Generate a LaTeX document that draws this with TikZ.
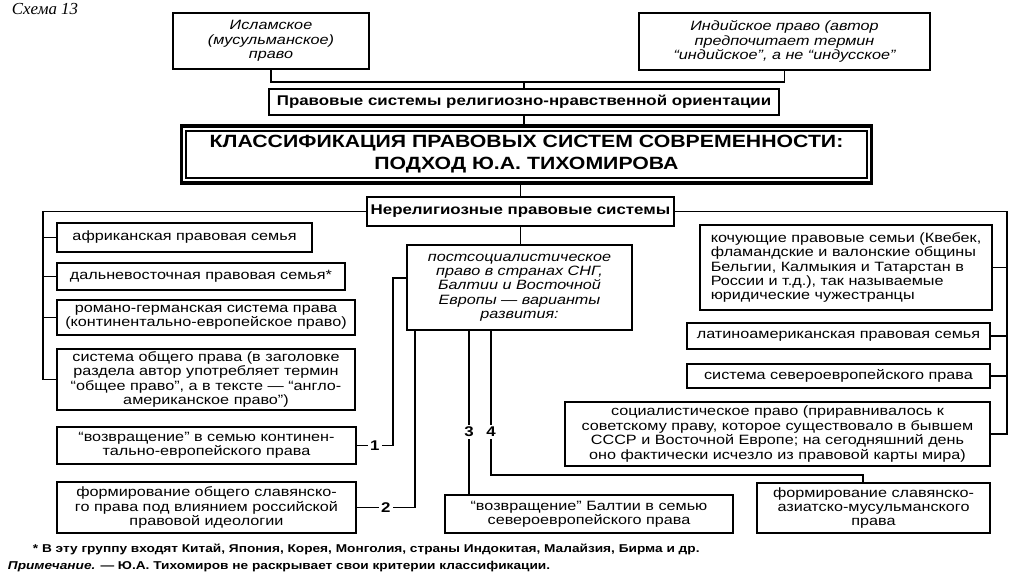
\documentclass[tikz,border=0pt]{standalone}
\usepackage{fontspec}
\setmainfont{Liberation Sans}[FakeStretch=1.2]
\newfontfamily\schemefont{Liberation Serif}
\usetikzlibrary{positioning,calc}

\newcommand{\bodysize}{\fontsize{9.6}{10.2}\selectfont}
\newcommand{\headsize}{\fontsize{10}{12}\selectfont\bfseries}
\newcommand{\titlesize}{\fontsize{12.6}{15.6}\selectfont\bfseries}
\newcommand{\notesize}{\fontsize{8.1}{10}\selectfont\bfseries}

\begin{document}
\begin{tikzpicture}[
  x=0.025cm, y=-0.025cm,
  wh/.style 2 args={minimum width=#1*0.025cm, minimum height=#2*0.025cm},
  box/.style={draw, line width=1pt, inner sep=0pt, align=center, font=\bodysize},
  ibox/.style={box, font=\bodysize\itshape},
  hbox/.style={box, font=\headsize},
  num/.style={fill=white, inner sep=1.5pt, font=\headsize},
  conn/.style={line width=1pt},
]
\useasboundingbox (0,0) rectangle (1024,574);

\node[anchor=base west, font=\schemefont\itshape\fontsize{12}{13}\selectfont] (scheme) at (7,14) {Схема 13};

% religious systems
\node[ibox, wh={196}{56}] (islam) at (271,41) {Исламское\\(мусульманское)\\право};
\node[ibox, wh={291}{57}] (indian) at (784.5,41.5) {Индийское право (автор\\предпочитает термин\\“индийское”, а не “индусское”};
\node[hbox, wh={510}{26}] (relig) at (524,102) {Правовые системы религиозно-нравственной ориентации};

% title
\node[box, font=\titlesize, line width=0.8pt, wh={681}{47}] (title) at (526.5,154.5) {КЛАССИФИКАЦИЯ ПРАВОВЫХ СИСТЕМ СОВРЕМЕННОСТИ:\\ПОДХОД Ю.А. ТИХОМИРОВА};
\node[draw, line width=2.2pt, wh={690}{57}] (frame) at (title.center) {};

\node[hbox, wh={307}{29}] (nonrel) at (520.5,211.5) {Нерелигиозные правовые системы};

% left column
\node[box, wh={255}{29}] (afr) at (184.5,237.5) {африканская правовая семья};
\node[box, wh={288}{27}] (fareast) at (201,276.5) {дальневосточная правовая семья*};
\node[box, wh={298}{35}] (roman) at (206,317.5) {романо-германская система права\\(континентально-европейское право)};
\node[box, wh={298}{61}] (common) at (206,379.5) {система общего права (в заголовке\\раздела автор употребляет термин\\“общее право”, а в тексте — “англо-\\американское право”)};
\node[box, wh={299}{37}] (ret) at (206.5,445.5) {“возвращение” в семью континен-\\тально-европейского права};
\node[box, wh={299}{51}] (slav) at (206.5,507.5) {формирование общего славянско-\\го права под влиянием российской\\правовой идеологии};

% middle
\node[ibox, wh={225}{85}] (post) at (519.5,287.5) {постсоциалистическое\\право в странах СНГ,\\Балтии и Восточной\\Европы — варианты\\развития:};
\node[box, wh={288}{38}] (balt) at (589,514) {“возвращение” Балтии в семью\\североевропейского права};
\node[box, wh={233}{50}] (sasia) at (873.5,508) {формирование славянско-\\азиатско-мусульманского\\права};

% right column
\node[box, align=left, wh={292}{85}] (nomad) at (846,267.5) {кочующие правовые семьи (Квебек,\\фламандские и валонские общины\\Бельгии, Калмыкия и Татарстан в\\России и т.д.), так называемые\\юридические чужестранцы};
\node[box, wh={303}{26}] (latam) at (838.5,336) {латиноамериканская правовая семья};
\node[box, wh={303}{24}] (north) at (838.5,376) {система североевропейского права};
\node[box, wh={425}{64}] (soc) at (777.5,434) {социалистическое право (приравнивалось к\\советскому праву, которое существовало в бывшем\\СССР и Восточной Европе; на сегодняшний день\\оно фактически исчезло из правовой карты мира)};

% notes
\node[anchor=west, font=\notesize] (fn) at (28,549) {* В эту группу входят Китай, Япония, Корея, Монголия, страны Индокитая, Малайзия, Бирма и др.};
\node[anchor=west, font=\notesize] (note) at (3,567) {\textit{Примечание.} — Ю.А. Тихомиров не раскрывает свои критерии классификации.};

% connectors
\coordinate (rj) at (522,82);
\draw[conn] (islam.south) |- (indian.south |- rj) -- (indian.south);
\draw[conn] (relig.north |- rj) -- (relig.north);
\draw[conn] (relig.south) -- (relig.south |- frame.north);
\draw[conn] (nonrel.north |- frame.south) -- (nonrel.north);
\draw[conn] (nonrel.south) -- (nonrel.south |- post.north);

\coordinate (lt) at (43,208);
\draw[conn] (nonrel.west) -- (lt |- nonrel.west) -- (lt |- common.west) -- (common.west);
\foreach \b in {afr, fareast, roman}
  \draw[conn] (lt |- \b.west) -- (\b.west);

\coordinate (rt) at (1007,208);
\draw[conn] (nonrel.east) -- (rt |- nonrel.east) -- (rt |- soc.east) -- (soc.east);
\foreach \b in {nomad, latam, north}
  \draw[conn] (rt |- \b.east) -- (\b.east);

\coordinate (c1) at (393,278);
\draw[conn] (ret.east) -- node[num]{1} (ret.east -| c1) -- (c1) -- (c1 -| post.west);
\coordinate (c2) at (415,507);
\draw[conn] (slav.east) -- node[num]{2} (slav.east -| c2) -- (c2 |- post.south);
\coordinate (c3) at (469,330);
\draw[conn] (c3 |- post.south) -- node[num, pos=0.62]{3} (c3 |- balt.north);
\coordinate (c4) at (491,475);
\coordinate (c4b) at (863,475);
\draw[conn] (c4 |- post.south) -- node[num, pos=0.7]{4} (c4) -- (c4b) -- (c4b |- sasia.north);
\end{tikzpicture}
\end{document}
